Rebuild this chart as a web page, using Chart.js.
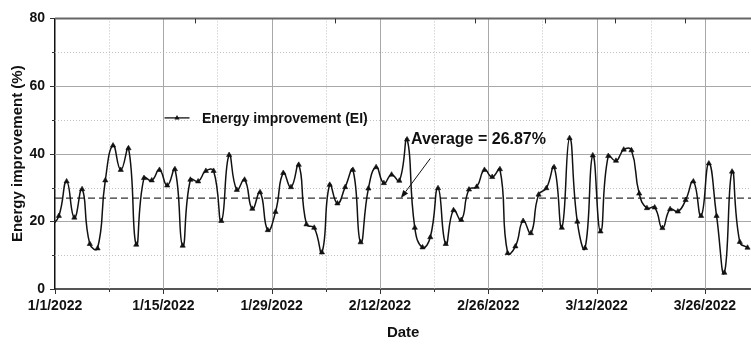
<!DOCTYPE html>
<html>
<head>
<meta charset="utf-8">
<script src="https://cdn.jsdelivr.net/npm/chart.js@4/dist/chart.umd.min.js"></script>
<style>
  html, body { margin: 0; padding: 0; background: #fff; overflow: hidden; }
  #wrap { width: 751px; height: 344px; overflow: hidden; position: relative; }
  canvas { display: block; }
</style>
</head>
<body>
<div id="wrap"><canvas id="chart" width="756" height="344"></canvas></div>
<script>
// Daily energy improvement (EI, %) from 1/1/2022 to 3/31/2022, one reading per day
const energyImprovement = [
  21.6, 31.8, 21.1, 29.5, 13.3, 12.0, 32.1, 42.4, 35.2, 41.6,
  13.1, 32.8, 32.1, 35.2, 30.6, 35.4, 12.8, 32.3, 31.8, 34.9,
  34.9, 20.1, 39.6, 29.3, 32.3, 23.7, 28.6, 17.4, 22.8, 34.3,
  30.1, 36.7, 19.1, 18.1, 10.8, 30.8, 25.3, 30.1, 35.2, 13.8,
  29.7, 36.0, 31.3, 33.8, 32.0, 44.2, 18.1, 12.3, 15.3, 29.8,
  13.3, 23.3, 20.4, 29.4, 30.2, 35.2, 33.1, 35.4, 10.6, 12.6,
  20.1, 16.5, 27.9, 29.8, 36.0, 18.1, 44.6, 19.9, 12.1, 39.5,
  17.0, 39.3, 37.9, 41.2, 41.0, 28.2, 23.9, 24.1, 18.0, 23.6,
  22.9, 26.3, 31.8, 21.6, 37.1, 21.6, 4.8, 34.7, 13.9, 12.2
];
// Reading of 12/31/2021, only its segment into 1/1 shows
const previousDayValue = 18.5;
const averageEI = 26.87;

// Axis ticks (x in days since 1/1/2022)
const dateTickDays = [0, 14, 28, 42, 56, 70, 84];
const dateTickLabels = ['1/1/2022', '1/15/2022', '1/29/2022', '2/12/2022', '2/26/2022', '3/12/2022', '3/26/2022'];
const minorDateDays = [7, 21, 35, 49, 63, 77];
const topAxisTickDays = [18.1, 36.2, 54.3, 63.3, 72.4, 81.4];
const yMajorTicks = [0, 20, 40, 60, 80];
const yMinorTicks = [10, 30, 50, 70];

const FONT = "'Liberation Sans', Arial, Helvetica, sans-serif";

// each reading sits at the middle of its day
const eiPoints = [{ x: -0.5, y: previousDayValue }].concat(
  energyImprovement.map((v, i) => ({ x: i + 0.5, y: v }))
);
const averagePoints = [{ x: 0, y: averageEI }, { x: 90, y: averageEI }];

// Grid lines, tick marks and the top frame line
const framePlugin = {
  id: 'frame',
  beforeDatasetsDraw(chart) {
    const { ctx, chartArea: a, scales: { x, y } } = chart;
    ctx.save();
    // minor dotted grid
    ctx.strokeStyle = '#c2c2c2';
    ctx.lineWidth = 1;
    ctx.setLineDash([1, 2]);
    minorDateDays.forEach(d => {
      const px = Math.round(x.getPixelForValue(d)) + 0.5;
      ctx.beginPath(); ctx.moveTo(px, a.top); ctx.lineTo(px, a.bottom); ctx.stroke();
    });
    yMinorTicks.forEach(v => {
      const py = Math.round(y.getPixelForValue(v)) + 0.5;
      ctx.beginPath(); ctx.moveTo(a.left, py); ctx.lineTo(a.right, py); ctx.stroke();
    });
    // major solid grid
    ctx.setLineDash([]);
    ctx.strokeStyle = '#a8a8a8';
    dateTickDays.slice(1).forEach(d => {
      const px = Math.round(x.getPixelForValue(d)) + 0.5;
      ctx.beginPath(); ctx.moveTo(px, a.top); ctx.lineTo(px, a.bottom); ctx.stroke();
    });
    yMajorTicks.slice(1, -1).forEach(v => {
      const py = Math.round(y.getPixelForValue(v)) + 0.5;
      ctx.beginPath(); ctx.moveTo(a.left, py); ctx.lineTo(a.right, py); ctx.stroke();
    });
    // top frame
    ctx.strokeStyle = '#666';
    ctx.lineWidth = 2;
    ctx.beginPath(); ctx.moveTo(a.left, a.top); ctx.lineTo(a.right, a.top); ctx.stroke();
    // tick marks
    ctx.strokeStyle = '#333';
    ctx.lineWidth = 1;
    const tick = (x1, y1, x2, y2) => { ctx.beginPath(); ctx.moveTo(x1, y1); ctx.lineTo(x2, y2); ctx.stroke(); };
    dateTickDays.forEach(d => { const px = Math.round(x.getPixelForValue(d)) + 0.5; tick(px, a.bottom, px, a.bottom + 5); });
    minorDateDays.forEach(d => { const px = Math.round(x.getPixelForValue(d)) + 0.5; tick(px, a.bottom, px, a.bottom + 3); });
    topAxisTickDays.forEach(d => { const px = Math.round(x.getPixelForValue(d)) + 0.5; tick(px, a.top, px, a.top + 5); });
    yMajorTicks.forEach(v => { const py = Math.round(y.getPixelForValue(v)) + 0.5; tick(a.left - 5, py, a.left, py); });
    yMinorTicks.forEach(v => { const py = Math.round(y.getPixelForValue(v)) + 0.5; tick(a.left - 3, py, a.left, py); });
    ctx.restore();
  },
  afterDatasetsDraw(chart) {
    const { ctx, chartArea: a, scales: { x, y } } = chart;
    ctx.save();
    // legend entry
    const ly = a.top + 99.5;
    const lx = a.left + 109.5;
    ctx.strokeStyle = '#111';
    ctx.lineWidth = 1.3;
    ctx.beginPath(); ctx.moveTo(lx, ly); ctx.lineTo(lx + 25, ly); ctx.stroke();
    const r = 3, cx = lx + 12.5;
    ctx.fillStyle = '#111';
    ctx.beginPath();
    ctx.moveTo(cx, ly - r);
    ctx.lineTo(cx + r * 0.866, ly + r * 0.5);
    ctx.lineTo(cx - r * 0.866, ly + r * 0.5);
    ctx.closePath(); ctx.fill();
    ctx.font = `bold 14px ${FONT}`;
    ctx.textBaseline = 'alphabetic';
    ctx.textAlign = 'left';
    ctx.fillText('Energy improvement (EI)', lx + 37.5, ly + 5.2);

    // average callout with arrow onto the dashed line
    ctx.font = `bold 16px ${FONT}`;
    ctx.fillText(`Average = ${averageEI.toFixed(2)}%`, x.getPixelForValue(46.0), y.getPixelForValue(43.0));
    const tipX = x.getPixelForValue(44.7), tipY = y.getPixelForValue(averageEI);
    const tailX = x.getPixelForValue(48.5), tailY = y.getPixelForValue(38.6);
    const ang = Math.atan2(tipY - tailY, tipX - tailX);
    const headLen = 8, headW = 3;
    const bx = tipX - headLen * Math.cos(ang), by = tipY - headLen * Math.sin(ang);
    ctx.strokeStyle = '#111';
    ctx.lineWidth = 1;
    ctx.beginPath(); ctx.moveTo(tailX, tailY); ctx.lineTo(bx, by); ctx.stroke();
    ctx.beginPath();
    ctx.moveTo(tipX, tipY);
    ctx.lineTo(bx + headW * Math.sin(ang), by - headW * Math.cos(ang));
    ctx.lineTo(bx - headW * Math.sin(ang), by + headW * Math.cos(ang));
    ctx.closePath(); ctx.fill();
    ctx.restore();
  }
};

new Chart(document.getElementById('chart'), {
  type: 'line',
  data: {
    datasets: [
      {
        label: 'Energy improvement (EI)',
        data: eiPoints,
        borderColor: '#111',
        borderWidth: 1.5,
        tension: 0.5,
        pointStyle: 'triangle',
        pointRadius: 3,
        pointBackgroundColor: '#111',
        pointBorderColor: '#111',
        pointBorderWidth: 0.6,
        clip: 0
      },
      {
        label: 'Average',
        data: averagePoints,
        borderColor: '#333',
        borderWidth: 1.3,
        borderDash: [7, 4],
        pointRadius: 0,
        tension: 0,
        clip: 0
      }
    ]
  },
  options: {
    responsive: false,
    devicePixelRatio: 1,
    animation: false,
    events: [],
    layout: { padding: { top: 15, right: 2, left: 0, bottom: 0 } },
    plugins: { legend: { display: false }, tooltip: { enabled: false } },
    scales: {
      x: {
        type: 'linear',
        min: 0,
        max: 90,
        afterBuildTicks: s => { s.ticks = dateTickDays.map(v => ({ value: v })); },
        afterFit: s => { s.height = 55; },
        grid: { display: false, drawTicks: false },
        border: { display: true, color: '#555', width: 2 },
        ticks: {
          autoSkip: false,
          maxRotation: 0,
          padding: 9,
          color: '#111',
          font: { family: FONT, size: 14, weight: 'bold' },
          callback: v => dateTickLabels[dateTickDays.indexOf(v)] ?? ''
        },
        title: {
          display: true,
          text: 'Date',
          color: '#111',
          font: { family: FONT, size: 15, weight: 'bold' },
          padding: { top: 0, bottom: 2 }
        }
      },
      y: {
        min: 0,
        max: 80,
        afterBuildTicks: s => { s.ticks = yMajorTicks.map(v => ({ value: v })); },
        afterFit: s => { s.width = 55; },
        grid: { display: false, drawTicks: false },
        border: { display: true, color: '#111', width: 1.5 },
        ticks: {
          padding: 10,
          color: '#111',
          font: { family: FONT, size: 14, weight: 'bold' }
        },
        title: {
          display: true,
          text: 'Energy improvement (%)',
          color: '#111',
          font: { family: FONT, size: 15, weight: 'bold' },
          padding: { top: 9, bottom: 0 }
        }
      }
    }
  },
  plugins: [framePlugin]
});
</script>
</body>
</html>
